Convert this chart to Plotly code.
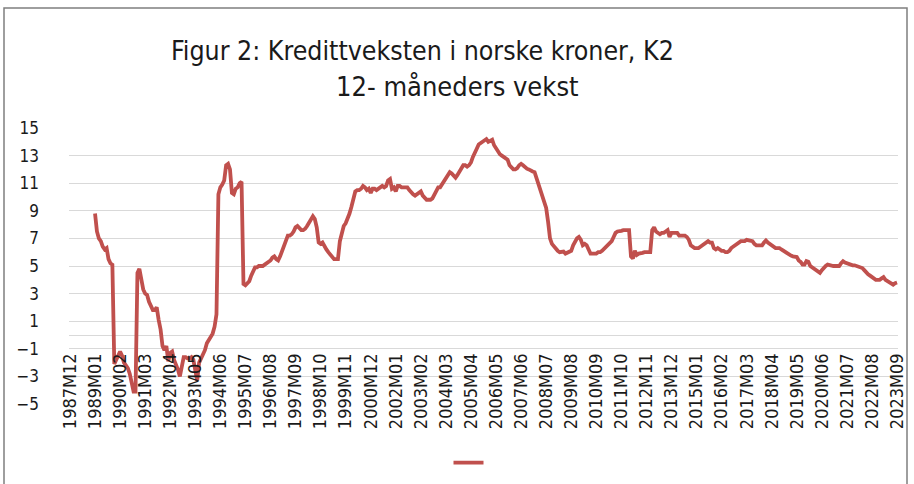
import plotly.graph_objects as go

# Category labels: monthly, 1987M12 .. 2023M09
months = []
y, mth = 1987, 12
while (y, mth) <= (2023, 9):
    months.append(f"{y}M{mth:02d}")
    mth += 1
    if mth > 12:
        y, mth = y + 1, 1

tick_labels = months[::13]

# 12-month growth (%), data start 1989M01 (1987M12-1988M12 missing)
missing = [None] * 13
g1989 = [8.8, 7.5, 7.0, 6.8, 6.4, 6.2, 6.3, 5.5, 5.2, 5.1, -2.1, -1.8]
g1990 = [-1.5, -1.2, -1.5, -2.0, -2.2, -2.4, -2.8, -3.5, -4.1, -4.1, 4.5, 4.8]
g1991 = [3.8, 3.3, 3.0, 2.9, 2.4, 2.0, 1.8, 1.8, 2.0, 1.1, 0.4, -0.8]
g1992 = [-1.1, -0.8, -1.9, -1.3, -1.2, -1.8, -2.1, -2.5, -3.0, -2.3, -1.6, -1.6]
g1993 = [-1.7, -1.7, -1.6, -1.8, -2.6, -3.3, -2.0, -1.7, -1.5, -1.1, -0.6, -0.4]
g1994 = [-0.1, 0.1, 0.6, 1.5, 10.2, 10.7, 10.9, 11.2, 12.3, 12.4, 12.0, 10.3]
g1995 = [10.2, 10.6, 10.7, 11.0, 11.1, 3.7, 3.6, 3.8, 3.9, 4.3, 4.7, 4.9]
g1996 = [4.9, 5.0, 5.0, 5.0, 5.1, 5.2, 5.3, 5.4, 5.6, 5.7, 5.5, 5.4]
g1997 = [5.7, 6.1, 6.6, 7.0, 7.2, 7.2, 7.3, 7.5, 7.8, 7.9, 7.7, 7.6]
g1998 = [7.6, 7.7, 7.9, 8.1, 8.3, 8.6, 8.4, 7.8, 6.7, 6.6, 6.7, 6.4]
g1999 = [6.2, 6.0, 5.8, 5.6, 5.5, 5.5, 5.5, 6.8, 7.4, 7.9, 8.1, 8.4]
g2000 = [8.8, 9.3, 9.9, 10.4, 10.5, 10.5, 10.6, 10.8, 10.7, 10.5, 10.6, 10.3]
g2001 = [10.6, 10.6, 10.5, 10.6, 10.7, 10.8, 10.7, 10.8, 11.2, 11.3, 10.6, 10.7]
g2002 = [10.4, 10.8, 10.8, 10.7, 10.7, 10.7, 10.7, 10.5, 10.3, 10.2, 10.1, 10.2]
g2003 = [10.3, 10.4, 10.1, 9.9, 9.8, 9.8, 9.8, 9.9, 10.2, 10.5, 10.7, 10.7]
g2004 = [10.9, 11.1, 11.4, 11.6, 11.8, 11.7, 11.5, 11.4, 11.6, 11.8, 12.1, 12.3]
g2005 = [12.3, 12.2, 12.3, 12.5, 12.9, 13.3, 13.5, 13.8, 13.9, 14.0, 14.1, 14.2]
g2006 = [14.0, 14.05, 14.15, 13.75, 13.5, 13.3, 13.1, 13.0, 12.9, 12.8, 12.7, 12.3]
g2007 = [12.1, 12.0, 12.0, 12.1, 12.3, 12.4, 12.3, 12.15, 12.05, 12.0, 11.9, 11.85]
g2008 = [11.8, 11.4, 11.0, 10.5, 10.1, 9.7, 9.2, 8.2, 7.0, 6.6, 6.4, 6.2]
g2009 = [6.1, 6.0, 6.0, 6.05, 5.9, 5.95, 6.0, 6.1, 6.5, 6.8, 7.0, 7.1]
g2010 = [6.9, 6.5, 6.6, 6.5, 6.1, 5.9, 5.9, 5.9, 5.9, 6.0, 6.0, 6.1]
g2011 = [6.25, 6.4, 6.5, 6.65, 6.8, 7.1, 7.4, 7.5, 7.5, 7.55, 7.6, 7.6]
g2012 = [7.6, 7.6, 5.7, 5.55, 6.1, 5.8, 5.9, 5.9, 5.95, 6.0, 6.0, 6.0]
g2013 = [6.0, 7.6, 7.8, 7.5, 7.4, 7.3, 7.4, 7.4, 7.5, 7.6, 7.1, 7.4]
g2014 = [7.4, 7.4, 7.4, 7.2, 7.2, 7.2, 7.2, 7.1, 6.9, 6.5, 6.4, 6.3]
g2015 = [6.3, 6.3, 6.4, 6.5, 6.6, 6.7, 6.8, 6.7, 6.7, 6.3, 6.2, 6.3]
g2016 = [6.2, 6.1, 6.1, 6.0, 6.0, 6.1, 6.3, 6.4, 6.5, 6.6, 6.7, 6.8]
g2017 = [6.8, 6.8, 6.9, 6.85, 6.85, 6.8, 6.6, 6.5, 6.5, 6.5, 6.5, 6.7]
g2018 = [6.85, 6.7, 6.6, 6.5, 6.4, 6.3, 6.3, 6.3, 6.2, 6.1, 6.0, 5.9]
g2019 = [5.8, 5.75, 5.7, 5.7, 5.65, 5.4, 5.3, 5.1, 5.1, 5.35, 5.3, 5.0]
g2020 = [4.9, 4.8, 4.7, 4.6, 4.5, 4.7, 4.9, 5.0, 5.1, 5.05, 5.05, 5.0]
g2021 = [5.0, 5.0, 5.0, 5.2, 5.35, 5.25, 5.2, 5.1, 5.05, 5.05, 5.05, 5.0]
g2022 = [5.0, 4.95, 4.85, 4.7, 4.5, 4.4, 4.3, 4.2, 4.1, 4.0, 4.0, 4.0]
g2023 = [4.1, 4.2, 4.0, 3.9, 3.8, 3.7, 3.65, 3.75, 3.8]

growth = (missing + g1989 + g1990 + g1991 + g1992 + g1993 + g1994 + g1995 + g1996
          + g1997 + g1998 + g1999 + g2000 + g2001 + g2002 + g2003 + g2004 + g2005
          + g2006 + g2007 + g2008 + g2009 + g2010 + g2011 + g2012 + g2013 + g2014
          + g2015 + g2016 + g2017 + g2018 + g2019 + g2020 + g2021 + g2022 + g2023)

LINE = "#C0504D"
GRID = "#D9D9D9"
FONT = "Liberation Sans Narrow, DejaVu Sans Condensed, Lato, sans-serif"

fig = go.Figure()
fig.add_trace(go.Scatter(
    x=months, y=growth, mode="lines", name="",
    line=dict(color=LINE, width=3.8), connectgaps=False, showlegend=True,
))

W, H = 914, 484
L, R, T, B = 69, 16, 128, 80
pw, ph = W - L - R, H - T - B

def px(xp):
    return (xp - L) / pw

def py(yp):
    return (H - B - yp) / ph

fig.update_layout(
    width=W, height=H,
    margin=dict(l=L, r=R, t=T, b=B, autoexpand=False),
    paper_bgcolor="white", plot_bgcolor="white",
    font=dict(family=FONT, color="#1a1a1a", size=17),
    showlegend=True,
    legend=dict(orientation="h", x=px(471), xanchor="center", y=py(463),
                yanchor="middle", bgcolor="rgba(0,0,0,0)", itemwidth=30),
    xaxis=dict(
        type="category", range=[-0.5, len(months) - 0.5],
        anchor="free", position=0.2, automargin=False,
        tickmode="array", tickvals=tick_labels, ticktext=tick_labels,
        tickangle=-90, showgrid=False, showline=False, ticks="",
        zeroline=False, tickfont=dict(size=18, color="#1a1a1a"),
    ),
    yaxis=dict(
        range=[-5, 15], tick0=-5, dtick=2, showgrid=True, gridcolor=GRID,
        gridwidth=1, zeroline=True, zerolinecolor=GRID, zerolinewidth=1,
        showline=False, ticks="", ticklabelstandoff=29, automargin=False,
        tickfont=dict(size=17, color="#1a1a1a"),
    ),
    annotations=[
        dict(text="Figur 2: Kredittveksten i norske kroner, K2", xref="paper",
             yref="paper", x=px(422), y=py(50), xanchor="center",
             yanchor="middle", showarrow=False, font=dict(size=26.5)),
        dict(text="12- måneders vekst", xref="paper", yref="paper",
             x=px(457), y=py(86), xanchor="center", yanchor="middle",
             showarrow=False, font=dict(size=27)),
    ],
    shapes=[
        dict(type="rect", xref="paper", yref="paper",
             x0=px(4), x1=px(907), y0=py(520), y1=py(8),
             line=dict(color="#7f7f7f", width=1.5), fillcolor="rgba(0,0,0,0)",
             layer="below"),
    ],
)

fig.write_html(
    "out.html",
    config={"displayModeBar": False},
    post_script="document.body.style.margin='0';document.body.style.overflow='hidden';",
)
